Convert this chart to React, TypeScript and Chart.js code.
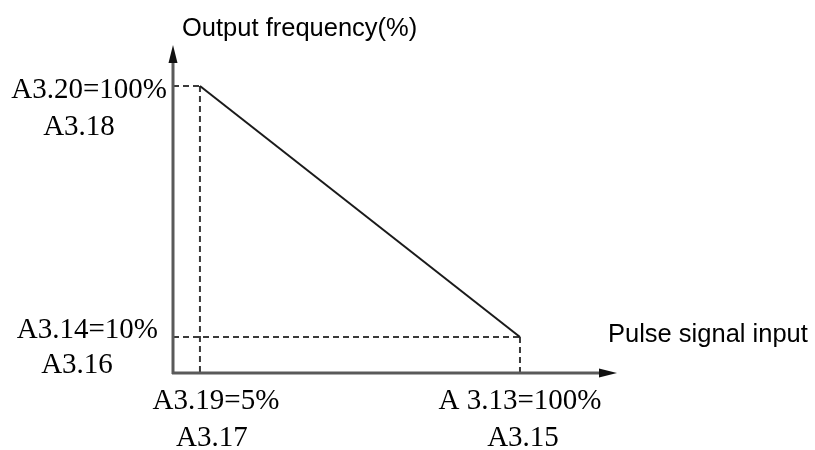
import React, { useEffect, useRef } from "react";
import { Chart, registerables } from "chart.js";

Chart.register(...registerables);

// ---- data ----
const xValues = [5, 100]; // pulse signal input (%)
const yValues = [100, 10]; // output frequency (%)
const xTickLabels = [
  ["A3.19=5%", "A3.17"],
  ["A 3.13=100%", "A3.15"],
];
const yTickLabels = [
  ["A3.20=100%", "A3.18"],
  ["A3.14=10%", "A3.16"],
];
const xTitle = "Pulse signal input";
const yTitle = "Output frequency(%)";

const SERIF = "29px 'Liberation Serif', 'Times New Roman', serif";
const SANS = "25.5px 'Liberation Sans', Arial, sans-serif";

const diagramPlugin = {
  id: "diagram",
  beforeDatasetsDraw(chart: any) {
    const { ctx, chartArea, scales } = chart;
    const xs = scales.x;
    const ys = scales.y;
    const left = chartArea.left;
    const bottom = chartArea.bottom;
    ctx.save();
    // dashed guide lines
    ctx.strokeStyle = "#3a3a3a";
    ctx.lineWidth = 2;
    ctx.setLineDash([6, 4]);
    xValues.forEach((xv, i) => {
      const px = xs.getPixelForValue(xv);
      const py = ys.getPixelForValue(yValues[i]);
      ctx.beginPath();
      ctx.moveTo(left, py);
      ctx.lineTo(px, py);
      ctx.stroke();
      ctx.beginPath();
      ctx.moveTo(px, py);
      ctx.lineTo(px, bottom);
      ctx.stroke();
    });
    ctx.setLineDash([]);
    // axes
    ctx.strokeStyle = "#5a5a5a";
    ctx.fillStyle = "#111";
    ctx.lineWidth = 3;
    ctx.beginPath();
    ctx.moveTo(left, bottom + 1);
    ctx.lineTo(left, chartArea.top + 10);
    ctx.moveTo(left - 1, bottom);
    ctx.lineTo(chartArea.right - 10, bottom);
    ctx.stroke();
    // arrow heads
    ctx.beginPath();
    ctx.moveTo(left, chartArea.top);
    ctx.lineTo(left - 4.5, chartArea.top + 18);
    ctx.lineTo(left + 4.5, chartArea.top + 18);
    ctx.closePath();
    ctx.fill();
    ctx.beginPath();
    ctx.moveTo(chartArea.right, bottom);
    ctx.lineTo(chartArea.right - 18, bottom - 4.5);
    ctx.lineTo(chartArea.right - 18, bottom + 4.5);
    ctx.closePath();
    ctx.fill();
    ctx.restore();
  },
  afterDraw(chart: any) {
    const { ctx, chartArea, scales } = chart;
    const xs = scales.x;
    const ys = scales.y;
    const left = chartArea.left;
    const bottom = chartArea.bottom;
    ctx.save();
    ctx.fillStyle = "#000";
    ctx.textBaseline = "alphabetic";
    // y tick labels
    ctx.font = SERIF;
    const yOff = [
      { r1: 6, b1: 12, c2: 94, b2: 49 },
      { r1: 15, b1: 1, c2: 96, b2: 36 },
    ];
    yValues.forEach((yv, i) => {
      const py = ys.getPixelForValue(yv);
      const o = yOff[i];
      ctx.textAlign = "right";
      ctx.fillText(yTickLabels[i][0], left - o.r1, py + o.b1);
      ctx.textAlign = "center";
      ctx.fillText(yTickLabels[i][1], left - o.c2, py + o.b2);
    });
    // x tick labels
    const xOff = [
      { c1: 16, c2: 12 },
      { c1: 0, c2: 3 },
    ];
    xValues.forEach((xv, i) => {
      const px = xs.getPixelForValue(xv);
      ctx.textAlign = "center";
      ctx.fillText(xTickLabels[i][0], px + xOff[i].c1, bottom + 36);
      ctx.fillText(xTickLabels[i][1], px + xOff[i].c2, bottom + 73);
    });
    // axis titles
    ctx.font = SANS;
    ctx.textAlign = "left";
    ctx.fillText(yTitle, left + 9, chartArea.top - 9);
    ctx.fillText(xTitle, chartArea.right - 9, ys.getPixelForValue(yValues[1]) + 5);
    ctx.restore();
  },
};

export default function App() {
  const ref = useRef<HTMLCanvasElement | null>(null);
  useEffect(() => {
    if (!ref.current) return;
    const chart = new Chart(ref.current, {
      type: "scatter",
      data: {
        datasets: [
          {
            data: xValues.map((x, i) => ({ x, y: yValues[i] })),
            showLine: true,
            borderColor: "#1a1a1a",
            borderWidth: 2,
            pointRadius: 0,
            fill: false,
          },
        ],
      },
      options: {
        animation: false,
        responsive: false,
        maintainAspectRatio: false,
        layout: { padding: { left: 173, right: 198, top: 45, bottom: 77 } },
        plugins: {
          legend: { display: false },
          tooltip: { enabled: false },
        },
        scales: {
          x: { type: "linear", min: -3, max: 128.8, display: false },
          y: { type: "linear", min: -2.9, max: 114.7, display: false },
        },
      },
      plugins: [diagramPlugin],
    });
    return () => chart.destroy();
  }, []);
  return (
    <div style={{ position: "fixed", left: 0, top: 0, width: 815, height: 450, background: "#fff" }}>
      <canvas ref={ref} width={815} height={450} style={{ width: 815, height: 450 }} />
    </div>
  );
}
